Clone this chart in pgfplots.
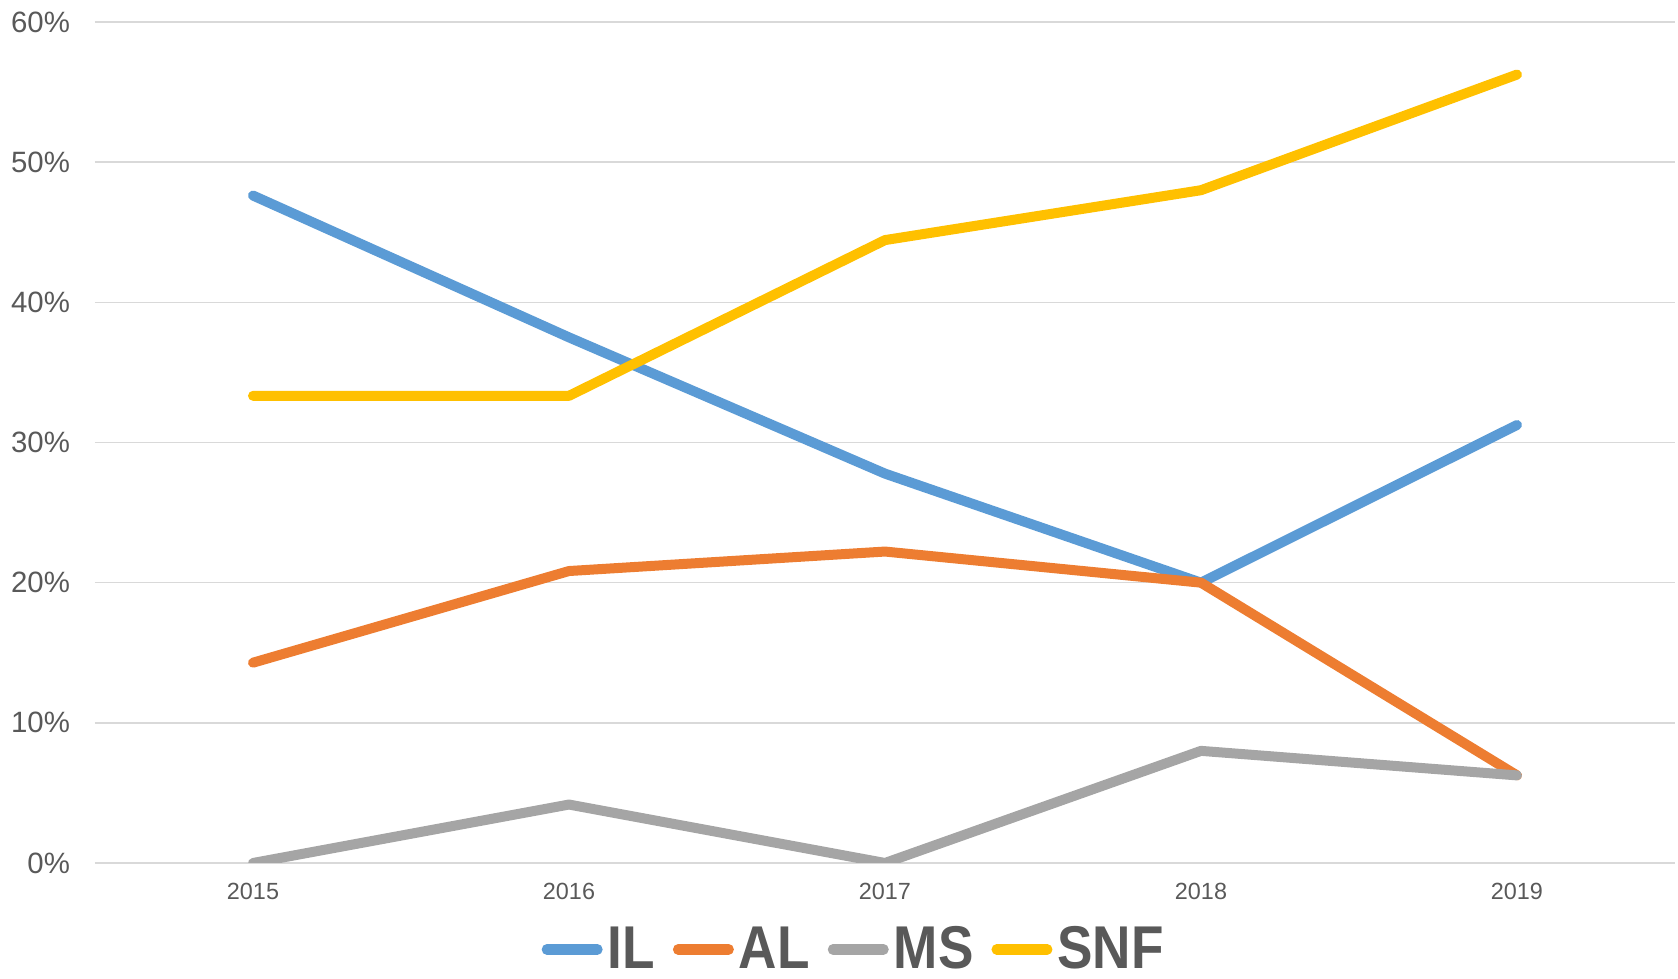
\documentclass[border=0pt]{standalone}
\usepackage{pgfplots}
\pgfplotsset{compat=1.18}
\usepackage{fontspec}
\setmainfont{Liberation Sans}
\newfontfamily\narrowbold[FakeStretch=0.88]{Liberation Sans Bold}
\definecolor{cIL}{HTML}{5B9BD5}
\definecolor{cAL}{HTML}{ED7D31}
\definecolor{cMS}{HTML}{A5A5A5}
\definecolor{cSNF}{HTML}{FFC000}
\definecolor{txt}{HTML}{595959}
\definecolor{grd}{HTML}{D9D9D9}
\begin{document}
\begin{tikzpicture}
\begin{axis}[
  scale only axis,
  width=790pt, height=420.5pt,
  xmin=-0.5, xmax=4.5, ymin=0, ymax=60,
  xtick={0,1,2,3,4},
  xticklabels={2015,2016,2017,2018,2019},
  ytick={0,10,20,30,40,50,60},
  yticklabels={0\%,10\%,20\%,30\%,40\%,50\%,60\%},
  ymajorgrids, major grid style={draw=grd, line width=0.75pt},
  axis line style={draw=none},
  tick style={draw=none},
  x tick label style={font=\fontsize{11.7}{13}\selectfont, text=txt, yshift=-6.6pt},
  y tick label style={font=\fontsize{14.7}{16}\selectfont, text=txt, xshift=-9pt},
  every axis plot/.append style={line width=5pt, line cap=round, line join=round, mark=none},
  legend columns=4,
  legend style={at={(0.478,0)}, anchor=center, yshift=-43.2pt, draw=none, fill=none,
    font=\fontsize{30.2}{34}\narrowbold\selectfont, text=txt, inner sep=0pt,
    nodes={inner sep=0pt},
    /tikz/every even column/.append style={column sep=6.5pt},
    /tikz/every odd column/.append style={column sep=0pt}},
  legend image code/.code={\path (0pt,0pt) (30.5pt,0pt); \draw[#1, line width=5.3pt, line cap=round] (2.65pt,0pt) -- (27.85pt,0pt);},
]
\addplot[color=cIL] coordinates {(0,47.62) (1,37.5) (2,27.78) (3,20) (4,31.25)};
\addlegendentry{IL}
\addplot[color=cAL] coordinates {(0,14.29) (1,20.83) (2,22.22) (3,20) (4,6.25)};
\addlegendentry{AL}
\addplot[color=cMS] coordinates {(0,0) (1,4.17) (2,0) (3,8) (4,6.25)};
\addlegendentry{MS}
\addplot[color=cSNF] coordinates {(0,33.33) (1,33.33) (2,44.44) (3,48) (4,56.25)};
\addlegendentry{SNF}
\end{axis}
\path[use as bounding box] (current axis.south west) ++(-47.5pt,-58pt) rectangle ++(839pt,489.5pt);
\end{tikzpicture}
\end{document}
